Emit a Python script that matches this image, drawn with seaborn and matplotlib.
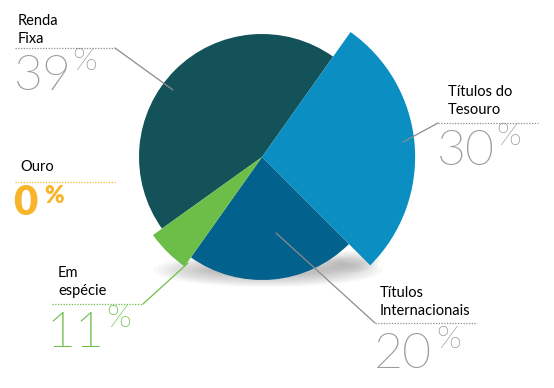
import matplotlib
matplotlib.use("Agg")
import matplotlib.pyplot as plt
from matplotlib import font_manager
from matplotlib.patches import Ellipse
import seaborn as sns


# categories in drawing order (clockwise from the green/teal edge)
categories = ["Renda Fixa", "Títulos do Tesouro", "Títulos Internacionais", "Em espécie", "Ouro"]
label_lines = [["Renda", "Fixa"], ["Títulos do", "Tesouro"], ["Títulos", "Internacionais"],
               ["Em", "espécie"], ["Ouro"]]
# percentages printed on the chart
label_pcts = [39, 30, 20, 11, 0]
# angular shares as drawn in the picture (the wedges are not to scale)
wedge_shares = [44.7, 27.7, 22.3, 5.3, 0.0]
# relative radius of each wedge (tesouro and espécie stick out)
radius_scale = [1.0, 1.245, 1.0, 1.09, 1.0]

colors = ["#145259", "#0B8EC1", "#03618D", "#6CBE48", "#F8B52A"]
pct_colors = ["#9B9B9B", "#9B9B9B", "#9B9B9B", "#6CBE48", "#F8B52A"]

W, H = 554, 388
CENTER = (262, H - 157)
R = 123


def Y(y):
    # picture rows run downward, the axes run upward
    return H - y


def light_font():
    # pick Lato Light by file name, matplotlib tends to grab the hairline cut
    for f in font_manager.fontManager.ttflist:
        fn = f.fname.lower()
        if "lato" in fn and "light" in fn and "italic" not in fn:
            return font_manager.FontProperties(fname=f.fname)
    return font_manager.FontProperties(family="Lato", weight="normal")


sns.set_theme(style="white")
plt.rcParams["font.family"] = ["Lato", "DejaVu Sans"]
LIGHT = light_font()

fig = plt.figure(figsize=(W / 100, H / 100), dpi=100)
ax = fig.add_axes([0, 0, 1, 1])

# soft shadow under the pie
for k in range(12):
    ax.add_patch(Ellipse((268, Y(270)), 230 - k * 10, 34 - k * 2.2,
                         color="#555555", alpha=0.035, lw=0, zorder=0))
for k in range(8):
    ax.add_patch(Ellipse((350, Y(262)), 60 - k * 5, 22 - k * 2,
                         color="#555555", alpha=0.03, lw=0, zorder=0))

draw = [(s, c, r) for s, c, r in zip(wedge_shares, colors, radius_scale) if s > 0]
wedges, _ = ax.pie([d[0] for d in draw], colors=[d[1] for d in draw],
                   startangle=215.6, counterclock=False, radius=R, center=CENTER,
                   wedgeprops=dict(linewidth=0))
for w, d in zip(wedges, draw):
    w.set_radius(R * d[2])
    w.set_zorder(2)

# annotations: text left x, first baseline, dotted line y and x range,
# leader line, percent digits left x / baseline, percent sign left x
layout = [
    dict(tx=18, ty=25, ly=48, lx=(15, 115), lead=((115, 48), (173, 90)), px=14, py=90, sx=72),
    dict(tx=448, ty=96, ly=123, lx=(438, 538), lead=((438, 123), (403, 142)), px=437, py=165, sx=496),
    dict(tx=380, ty=297, ly=323, lx=(375, 477), lead=((375, 323), (276, 233)), px=374, py=368, sx=436),
    dict(tx=58, ty=277, ly=304, lx=(52, 143), lead=((143, 304), (188, 263)), px=46, py=347, sx=106),
    dict(tx=20, ty=171, ly=182, lx=(15, 115), lead=None, px=13, py=215, sx=44),
]

for i, lay in enumerate(layout):
    for j, line in enumerate(label_lines[i]):
        ax.text(lay["tx"], Y(lay["ty"] + 18 * j), line, fontsize=10.5, color="black",
                ha="left", va="baseline", zorder=5)
    line_col = "#F8B52A" if i == 4 else ("#6CBE48" if i == 3 else "#8C8C8C")
    ax.plot(lay["lx"], [Y(lay["ly"])] * 2, color=line_col, lw=0.9,
            linestyle=(0, (1, 1.2)), zorder=4)
    if lay["lead"] is not None:
        (x0, y0), (x1, y1) = lay["lead"]
        ax.plot([x0, x1], [Y(y0), Y(y1)], color=line_col, lw=0.9, zorder=4)

    if i == 4:
        ax.text(lay["px"], Y(lay["py"]), f"{label_pcts[i]}", fontsize=30,
                fontweight="heavy", color=pct_colors[i], ha="left", va="baseline")
        ax.text(lay["sx"], Y(lay["py"] - 30), "%", fontsize=17, fontweight="heavy",
                color=pct_colors[i], ha="left", va="top")
    else:
        ax.text(lay["px"], Y(lay["py"]), f"{label_pcts[i]}", fontproperties=LIGHT,
                fontsize=36, color=pct_colors[i], ha="left", va="baseline")
        ax.text(lay["sx"], Y(lay["py"] - 43), "%", fontproperties=LIGHT, fontsize=23,
                color=pct_colors[i], ha="left", va="top")

ax.set_xlim(0, W)
ax.set_ylim(0, H)
ax.set_aspect("equal")
ax.axis("off")

fig.savefig("out.png", dpi=100, facecolor="white")
